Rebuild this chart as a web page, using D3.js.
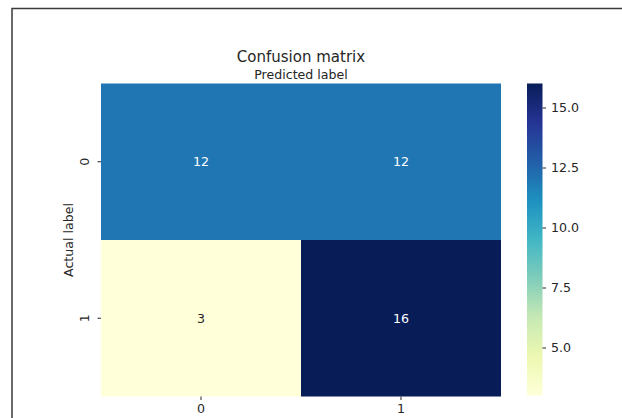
<!DOCTYPE html>
<html>
<head>
<meta charset="utf-8">
<script src="https://cdn.jsdelivr.net/npm/d3@7"></script>
<style>
  html, body { margin: 0; padding: 0; background: #fff; }
  svg { display: block; }
  text { font-family: "DejaVu Sans", sans-serif; fill: #262626; }
</style>
</head>
<body>
<svg id="chart" width="622" height="418"></svg>
<script>
// Class labels (actual on rows, predicted on columns)
const actualLabels = ["0", "1"];
const predictedLabels = ["0", "1"];
// Counts per row of actual label
const rowActual0 = [12, 12];
const rowActual1 = [3, 16];
const colorbarTicks = [5.0, 7.5, 10.0, 12.5, 15.0];
const valueMin = 3;
const valueMax = 16;

const counts = [rowActual0, rowActual1];
const cells = [];
counts.forEach((row, i) => row.forEach((v, j) => cells.push({ actual: actualLabels[i], predicted: predictedLabels[j], value: v })));

const svg = d3.select("#chart");

// Outer frame around the figure
svg.append("path")
  .attr("d", "M12,430 L12,8.5 L640,8.5")
  .attr("fill", "none")
  .attr("stroke", "#3a3a3a")
  .attr("stroke-width", 1.5);

const plot = { left: 101, right: 501, top: 83.5, bottom: 396.5 };

const x = d3.scaleBand().domain(predictedLabels).range([plot.left, plot.right]);
const y = d3.scaleBand().domain(actualLabels).range([plot.top, plot.bottom]);

// YlGnBu, linear between the nine ColorBrewer anchors
const anchors = d3.schemeYlGnBu[9];
const color = d3.scaleLinear()
  .domain(anchors.map((_, k) => valueMin + (valueMax - valueMin) * k / (anchors.length - 1)))
  .range(anchors)
  .interpolate(d3.interpolateRgb)
  .clamp(true);

// Heatmap cells
svg.append("g").selectAll("rect")
  .data(cells)
  .join("rect")
  .attr("x", d => x(d.predicted))
  .attr("y", d => y(d.actual))
  .attr("width", x.bandwidth())
  .attr("height", y.bandwidth())
  .attr("fill", d => color(d.value));

// Annotations
const mid = (valueMin + valueMax) / 2;
svg.append("g").selectAll("text")
  .data(cells)
  .join("text")
  .attr("x", d => x(d.predicted) + x.bandwidth() / 2)
  .attr("y", d => y(d.actual) + y.bandwidth() / 2)
  .attr("text-anchor", "middle")
  .attr("dominant-baseline", "central")
  .style("font-size", "12.6px")
  .style("fill", d => d.value > mid ? "#ffffff" : "#262626")
  .text(d => d.value);

// Bottom axis (predicted)
const xAxis = svg.append("g")
  .attr("transform", `translate(0,${plot.bottom})`)
  .call(d3.axisBottom(x).tickSize(3.5).tickPadding(4));
xAxis.select(".domain").remove();
xAxis.selectAll("line").attr("stroke", "#262626");
xAxis.selectAll("text").style("font-size", "12.6px").style("font-family", "DejaVu Sans").attr("fill", "#262626");

// Left axis (actual) with rotated tick labels
const yAxis = svg.append("g")
  .attr("transform", `translate(${plot.left},0)`)
  .call(d3.axisLeft(y).tickSize(3.5));
yAxis.select(".domain").remove();
yAxis.selectAll("line").attr("stroke", "#262626");
yAxis.selectAll("text")
  .style("font-size", "12.6px").style("font-family", "DejaVu Sans").attr("fill", "#262626")
  .attr("x", null).attr("dy", null)
  .attr("text-anchor", "middle")
  .attr("transform", "translate(-16,0) rotate(-90)")
  .attr("y", 0)
  .attr("dominant-baseline", "auto")
  .attr("dy", "0.35em");

// Titles
svg.append("text")
  .attr("x", (plot.left + plot.right) / 2)
  .attr("y", 62)
  .attr("text-anchor", "middle")
  .style("font-size", "15px")
  .text("Confusion matrix");

svg.append("text")
  .attr("x", (plot.left + plot.right) / 2)
  .attr("y", 78.5)
  .attr("text-anchor", "middle")
  .style("font-size", "12.6px")
  .text("Predicted label");

svg.append("text")
  .attr("transform", `translate(72.5,${(plot.top + plot.bottom) / 2}) rotate(-90)`)
  .attr("text-anchor", "middle")
  .style("font-size", "12.6px")
  .text("Actual label");

// Colorbar
const cb = { left: 527, width: 15.5, top: 83.5, bottom: 395.5 };
const cbScale = d3.scaleLinear().domain([valueMin, valueMax]).range([cb.bottom, cb.top]);

const defs = svg.append("defs");
const grad = defs.append("linearGradient")
  .attr("id", "cbGrad")
  .attr("x1", 0).attr("y1", 1).attr("x2", 0).attr("y2", 0);
d3.range(0, 1.0001, 0.02).forEach(t => {
  grad.append("stop")
    .attr("offset", t)
    .attr("stop-color", color(valueMin + t * (valueMax - valueMin)));
});

svg.append("rect")
  .attr("x", cb.left)
  .attr("y", cb.top)
  .attr("width", cb.width)
  .attr("height", cb.bottom - cb.top)
  .attr("fill", "url(#cbGrad)");

const cbAxis = svg.append("g")
  .attr("transform", `translate(${cb.left + cb.width},0)`)
  .call(d3.axisRight(cbScale).tickValues(colorbarTicks).tickFormat(d3.format(".1f")).tickSize(3.5).tickPadding(5));
cbAxis.select(".domain").remove();
cbAxis.selectAll("line").attr("stroke", "#262626");
cbAxis.selectAll("text").style("font-size", "12.6px").style("font-family", "DejaVu Sans").attr("fill", "#262626");
</script>
</body>
</html>
